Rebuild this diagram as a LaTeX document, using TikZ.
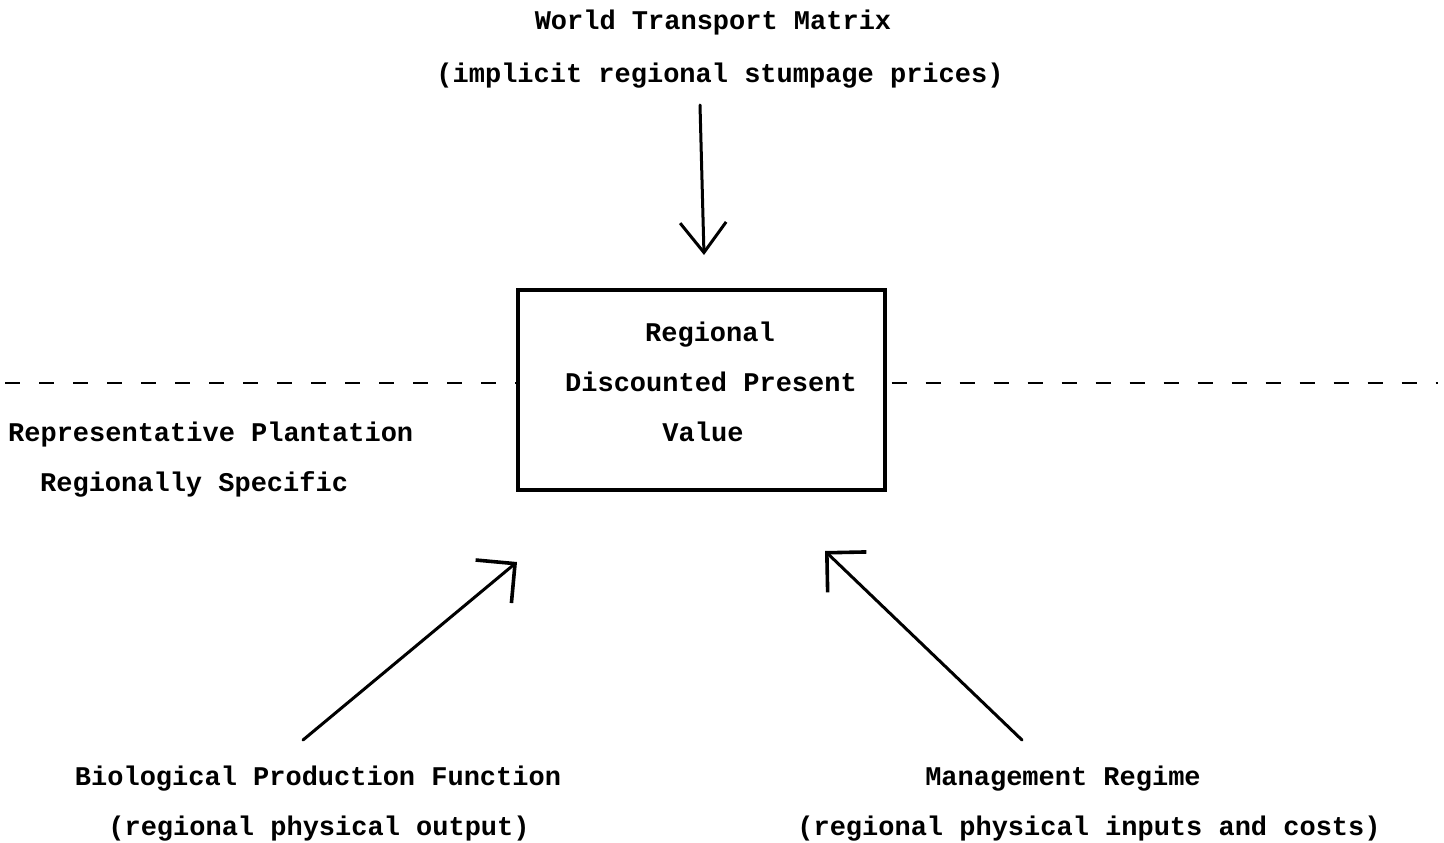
\documentclass[tikz,border=0pt]{standalone}
\usepackage{fontspec}
\setmonofont{Liberation Mono}
\usetikzlibrary{arrows.meta}
\tikzset{
  txt/.style={font=\ttfamily\bfseries\fontsize{27}{27}\selectfont, inner sep=0pt, anchor=base},
  box/.style={draw, line width=3.4pt, minimum width=367pt, minimum height=200pt, inner sep=0pt},
  conn/.style={line width=3pt, line cap=round},
  tipdown/.style={-{Straight Barb[length=30pt,width=46pt,line width=3pt]}},
  tipdiag/.style={-{Straight Barb[length=28pt,width=56pt,line width=3.6pt]}},
  dashline/.style={line width=2.8pt, dash pattern=on 15pt off 19pt}
}
\begin{document}
\begin{tikzpicture}[x=1pt,y=-1pt]
\useasboundingbox (0,0) rectangle (1444,843);
% texts
\node[txt] (wtm) at (713,30) {World Transport Matrix};
\node[txt] (wtm2) at (720,82) {(implicit regional stumpage prices)};
\node[box] (dpv) at (701.5,390) {};
\node[txt] (r1) at (710,341) {Regional};
\node[txt] (r2) at (711,391) {Discounted Present};
\node[txt] (r3) at (703,441) {Value};
\node[txt, anchor=base west] (rp1) at (8,441) {Representative Plantation};
\node[txt, anchor=base west] (rp2) at (40,491) {Regionally Specific};
\node[txt] (bio1) at (318,785) {Biological Production Function};
\node[txt] (bio2) at (319,835) {(regional physical output)};
\node[txt] (mr1) at (1063,785) {Management Regime};
\node[txt] (mr2) at (1089,835) {(regional physical inputs and costs)};
% dashed line
\coordinate (dl) at (5,383);
\coordinate (dr) at (1438,383);
\draw[dashline] (dl) -- (dpv.west |- dl);
\draw[dashline] (dpv.east |- dr) ++(5,0) -- (dr);
% arrows
\coordinate (t1) at (700,105);
\coordinate (h1) at (704,255);
\draw[conn, tipdown] (t1) -- (h1);
\coordinate (t2) at (303,740);
\coordinate (h2) at (517,562);
\draw[conn, tipdiag] (t2) -- (h2);
\coordinate (t3) at (1022,740);
\coordinate (h3) at (825,551);
\draw[conn, tipdiag] (t3) -- (h3);
\end{tikzpicture}
\end{document}
